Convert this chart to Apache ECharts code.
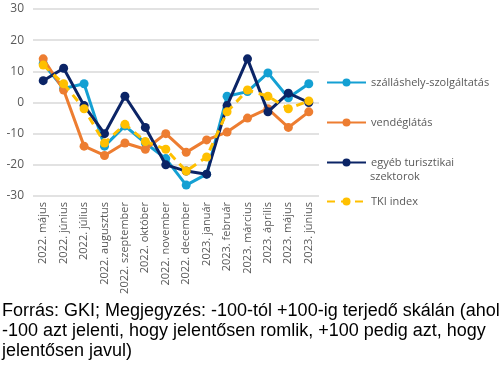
<!DOCTYPE html>
<html><head><meta charset="utf-8">
<script src="https://cdn.jsdelivr.net/npm/echarts@6/dist/echarts.min.js"></script>
<style>html,body{margin:0;padding:0;background:#fff}#c{width:503px;height:365px}</style>
</head><body><div id="c"></div>
<script>
const categories = ['2022. május','2022. június','2022. július','2022. augusztus','2022. szeptember','2022. október','2022. november','2022. december','2023. január','2023. február','2023. március','2023. április','2023. május','2023. június'];
const szallas = [12.5, 4.5, 6, -14, -7.5, -13, -18, -26.5, -23, 2, 3.5, 9.5, 1.5, 6];
const vendeg = [14, 4, -14, -17, -13, -15, -10, -16, -12, -9.5, -5, -2, -8, -3];
const egyeb = [7, 11, -1, -10, 2, -8, -20, -22, -23, -1, 14, -3, 3, 0];
const tki = [12, 6, -2, -13, -7, -12.5, -15, -22, -17.5, -3, 4, 2, -2, 0.5];
const yTicks = {min: -30, max: 30, interval: 10};
const names = ['szálláshely-szolgáltatás','vendéglátás','egyéb turisztikai szektorok','TKI index'];
const colors = ['#14a0d3','#ed7d31','#0b2466','#ffc000'];
const note = ['Forrás: GKI; Megjegyzés: -100-tól +100-ig terjedő skálán (ahol','-100 azt jelenti, hogy jelentősen romlik, +100 pedig azt, hogy','jelentősen javul)'];

const chart = echarts.init(document.getElementById('c'));
const datas = [szallas, vendeg, egyeb, tki];
const series = datas.map((d, i) => ({
  name: names[i], type: 'line', data: d,
  symbol: 'circle', symbolSize: 9,
  itemStyle: {color: colors[i]},
  lineStyle: {color: colors[i], width: 3, type: i === 3 ? [8, 6] : 'solid'},
  z: 2 + i
}));
const legendY = [77, 117, 157, 196];
const legends = names.map((n, i) => ({
  data: [n], orient: 'vertical', left: 326, top: legendY[i],
  itemWidth: 39, itemHeight: 10, itemGap: 4, padding: 0,
  formatter: i === 2 ? 'egyéb turisztikai' : '{name}',
  textStyle: {color: '#595959', fontSize: 11, fontFamily: 'Open Sans'}
}));
chart.setOption({
  animation: false,
  grid: {left: 33, right: 184, top: 9, bottom: 169},
  legend: legends,
  xAxis: {
    type: 'category', data: categories, boundaryGap: true,
    axisLine: {show: false}, axisTick: {show: false},
    axisLabel: {rotate: 90, color: '#595959', fontSize: 11, fontFamily: 'Open Sans', margin: 6, interval: 0}
  },
  yAxis: {
    type: 'value', min: yTicks.min, max: yTicks.max, interval: yTicks.interval,
    axisLine: {show: false}, axisTick: {show: false},
    axisLabel: {color: '#595959', fontSize: 12, fontFamily: 'Open Sans', margin: 9},
    splitLine: {lineStyle: {color: '#d9d9d9', width: 1.5}}
  },
  series: series,
  graphic: [
    {type: 'text', left: 370, top: 171, style: {text: 'szektorok', fill: '#595959', font: '11px "Open Sans"'}},
    ...note.map((t, i) => ({type: 'text', left: 2, top: 302 + i * 20, style: {text: t, fill: '#000', font: '18px "Liberation Sans"'}}))
  ]
});
</script></body></html>
